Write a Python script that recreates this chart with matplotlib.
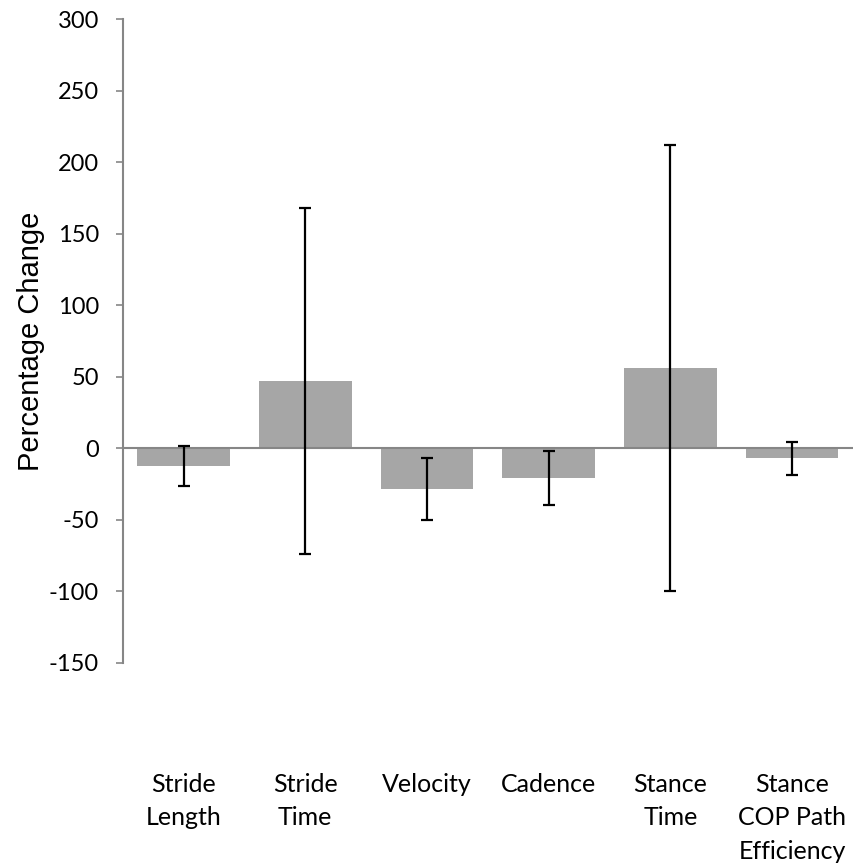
import numpy as np
import matplotlib.pyplot as plt

# gait measures and percentage change (mean +/- error)
categories = ['Stride\nLength', 'Stride\nTime', 'Velocity', 'Cadence',
              'Stance\nTime', 'Stance\nCOP Path\nEfficiency']
pct_change = [-12.1, 47.3, -28.5, -20.5, 56.1, -7.0]
pct_error = [14.0, 120.8, 21.5, 19.0, 155.8, 11.4]
yticks = [-150, -100, -50, 0, 50, 100, 150, 200, 250, 300]

fig = plt.figure(figsize=(8.54, 8.67), dpi=100)
ax = fig.add_axes([0.1437, 0.2353, 0.855, 0.7427])

x = np.arange(len(categories))
ax.bar(x, pct_change, width=0.76, color='#a6a6a6', zorder=2)
ax.errorbar(x, pct_change, yerr=pct_error, fmt='none', ecolor='black',
            elinewidth=1.6, capsize=4.5, capthick=1.6, zorder=4)
ax.axhline(0, color='#868686', lw=1.5, zorder=3)

ax.set_xlim(-0.5, len(categories) - 0.5)
ax.set_ylim(-150, 300)
ax.set_yticks(yticks)
ax.set_yticklabels([str(t) for t in yticks], fontfamily='Lato', fontsize=17)
ax.set_xticks(x)
ax.set_xticklabels(categories, fontfamily='Lato', fontsize=18, linespacing=1.55,
                   va='top')
ax.tick_params(axis='x', length=0, pad=79)
ax.tick_params(axis='y', length=5, width=1.2, color='#868686', pad=12)

for s in ['top', 'right', 'bottom']:
    ax.spines[s].set_visible(False)
ax.spines['left'].set_color('#868686')
ax.spines['left'].set_linewidth(1.5)

ax.set_ylabel('Percentage Change', fontfamily='Liberation Sans', fontsize=21)
ax.yaxis.set_label_coords(-0.107, 0.5)

fig.savefig('out.png', dpi=100)
